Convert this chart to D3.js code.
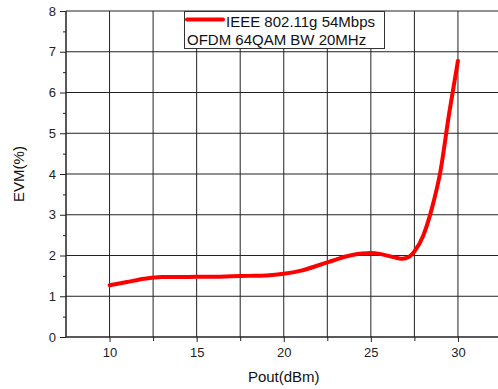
<!DOCTYPE html>
<html>
<head>
<meta charset="utf-8">
<script src="https://cdn.jsdelivr.net/npm/d3@7"></script>
<style>
  html, body { margin: 0; padding: 0; background: #fff; }
  svg { display: block; font-family: "Liberation Sans", Arial, sans-serif; }
</style>
</head>
<body>
<div id="chart"></div>
<script>
// EVM curve
const pout = [10, 11, 12, 13, 14, 15, 16, 17, 18, 19, 20, 21, 22, 22.5, 23, 23.5, 24, 24.5, 25, 25.5, 26, 26.5, 26.8, 27.2, 27.5, 28, 28.5, 29, 29.5, 30];
const evm = [1.27, 1.35, 1.43, 1.47, 1.47, 1.48, 1.48, 1.49, 1.50, 1.51, 1.55, 1.63, 1.76, 1.83, 1.90, 1.97, 2.02, 2.05, 2.06, 2.04, 1.99, 1.94, 1.92, 1.97, 2.10, 2.48, 3.15, 4.08, 5.5, 6.78];

const xTicks = [10, 15, 20, 25, 30];
const xMinor = [12.5, 17.5, 22.5, 27.5, 32.5];
const yTicks = [0, 1, 2, 3, 4, 5, 6, 7, 8];
const yMinor = [0.5, 1.5, 2.5, 3.5, 4.5, 5.5, 6.5, 7.5];
const legendLines = ["IEEE 802.11g 54Mbps", "OFDM 64QAM BW 20MHz"];

const width = 498, height = 389;
const mLeft = 66, mTop = 11, mBottom = 337;

const x = d3.scaleLinear().domain([7.5, 32.5]).range([mLeft, 501.5]);
const y = d3.scaleLinear().domain([0, 8]).range([mBottom, mTop]);

const svg = d3.select("#chart").append("svg")
  .attr("width", width).attr("height", height);

// grid
const grid = svg.append("g").attr("stroke", "#222").attr("stroke-width", 1);
grid.selectAll("line.v").data(xTicks.concat(xMinor)).join("line")
  .attr("x1", d => x(d)).attr("x2", d => x(d))
  .attr("y1", mTop).attr("y2", mBottom);
grid.selectAll("line.h").data(yTicks.slice(1)).join("line")
  .attr("x1", mLeft).attr("x2", width)
  .attr("y1", d => y(d)).attr("y2", d => y(d));

// axes
const xAxis = svg.append("g").attr("transform", `translate(0,${mBottom})`)
  .call(d3.axisBottom(x).tickValues(xTicks).tickSize(5).tickPadding(6));
svg.append("g").attr("transform", `translate(0,${mBottom})`)
  .call(d3.axisBottom(x).tickValues(xMinor).tickSize(4).tickFormat(""))
  .call(g => g.select(".domain").remove());
const yAxis = svg.append("g").attr("transform", `translate(${mLeft},0)`)
  .call(d3.axisLeft(y).tickValues(yTicks).tickSize(6).tickPadding(4));
svg.append("g").attr("transform", `translate(${mLeft},0)`)
  .call(d3.axisLeft(y).tickValues(yMinor).tickSize(3).tickFormat(""))
  .call(g => g.select(".domain").remove());

[xAxis, yAxis].forEach(a => {
  a.select(".domain").attr("stroke", "#222").attr("stroke-width", 1.5);
  a.selectAll(".tick text").attr("font-size", 13).attr("fill", "#222")
    .attr("font-family", "Liberation Sans, Arial, sans-serif");
});
svg.selectAll(".tick line").attr("stroke", "#222");
xAxis.select(".domain").attr("d", `M${mLeft},0H${width}`);
yAxis.select(".domain").attr("d", `M0,${mTop}V${mBottom}`);

// curve
svg.append("path")
  .datum(pout.map((p, i) => [p, evm[i]]))
  .attr("fill", "none")
  .attr("stroke", "#ff0000")
  .attr("stroke-width", 4)
  .attr("stroke-linecap", "round")
  .attr("d", d3.line().x(d => x(d[0])).y(d => y(d[1])).curve(d3.curveMonotoneX));

// legend
const lg = svg.append("g");
lg.append("rect").attr("x", 184.5).attr("y", 11.5).attr("width", 200).attr("height", 37)
  .attr("fill", "#fff").attr("stroke", "#333").attr("stroke-width", 1);
lg.append("line").attr("x1", 187).attr("x2", 223).attr("y1", 19.5).attr("y2", 19.5)
  .attr("stroke", "#ff0000").attr("stroke-width", 4).attr("stroke-linecap", "round");
lg.append("text").attr("x", 226).attr("y", 27).attr("font-size", 15).attr("fill", "#111").text(legendLines[0]);
lg.append("text").attr("x", 187).attr("y", 44.5).attr("font-size", 15).attr("fill", "#111").text(legendLines[1]);

// axis titles
svg.append("text").attr("x", x(20)).attr("y", 382).attr("text-anchor", "middle")
  .attr("font-size", 15).attr("fill", "#111").text("Pout(dBm)");
svg.append("text").attr("transform", `translate(24,${(mTop + mBottom) / 2}) rotate(-90)`)
  .attr("text-anchor", "middle").attr("font-size", 15).attr("fill", "#111").text("EVM(%)");
</script>
</body>
</html>
